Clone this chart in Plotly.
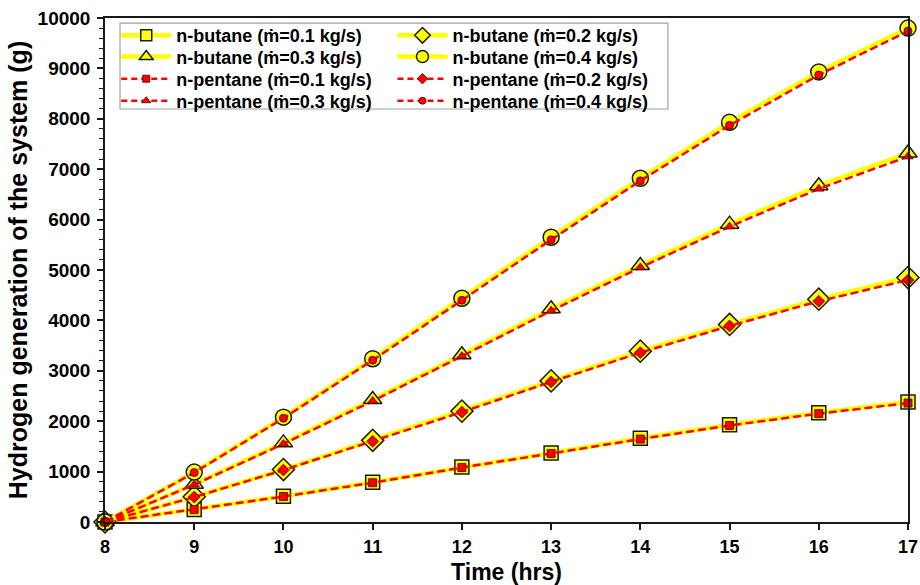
import plotly.graph_objects as go

hours = [8, 9, 10, 11, 12, 13, 14, 15, 16, 17]

butane_01 = [0, 250, 510, 790, 1090, 1370, 1660, 1930, 2170, 2380]
butane_02 = [0, 500, 1040, 1620, 2200, 2800, 3390, 3920, 4420, 4850]
butane_03 = [0, 750, 1570, 2430, 3320, 4230, 5090, 5910, 6670, 7320]
butane_04 = [0, 990, 2080, 3240, 4440, 5650, 6820, 7930, 8930, 9800]

pentane_01 = [0, 245, 505, 780, 1080, 1360, 1645, 1915, 2150, 2360]
pentane_02 = [0, 495, 1030, 1600, 2180, 2780, 3360, 3890, 4380, 4800]
pentane_03 = [0, 740, 1550, 2400, 3290, 4190, 5050, 5860, 6610, 7250]
pentane_04 = [0, 980, 2060, 3210, 4400, 5600, 6770, 7870, 8870, 9740]

names_butane = ["n-butane (ṁ=0.1 kg/s)", "n-butane (ṁ=0.2 kg/s)",
                "n-butane (ṁ=0.3 kg/s)", "n-butane (ṁ=0.4 kg/s)"]
names_pentane = ["n-pentane (ṁ=0.1 kg/s)", "n-pentane (ṁ=0.2 kg/s)",
                 "n-pentane (ṁ=0.3 kg/s)", "n-pentane (ṁ=0.4 kg/s)"]

symbols = ["square", "diamond", "triangle-up", "circle"]
b_sizes = [14, 17, 16, 16]
p_sizes = [8, 9, 9, 8]
b_leg_sizes = [11, 12, 12, 12]
p_leg_sizes = [7, 8, 8, 7]

# legend slot for each entry (left column / right column, 4 rows)
butane_legends = ["legend", "legend2", "legend3", "legend4"]
pentane_legends = ["legend5", "legend6", "legend7", "legend8"]

YELLOW = "#FFFF00"
RED = "#FF0000"
EDGE = "#1a1a1a"

fig = go.Figure()

for vals, name, sym, sz in zip([butane_01, butane_02, butane_03, butane_04],
                               names_butane, symbols, b_sizes):
    fig.add_trace(go.Scatter(
        x=hours, y=vals, name=name, mode="lines+markers", showlegend=False,
        line=dict(color=YELLOW, width=4.5),
        marker=dict(symbol=sym, size=sz, color=YELLOW, line=dict(color=EDGE, width=1.5)),
        cliponaxis=False,
    ))

for vals, name, sym, sz in zip([pentane_01, pentane_02, pentane_03, pentane_04],
                               names_pentane, symbols, p_sizes):
    fig.add_trace(go.Scatter(
        x=hours, y=vals, name=name, mode="lines+markers", showlegend=False,
        line=dict(color=RED, width=2.5, dash="8px,4px"),
        marker=dict(symbol=sym, size=sz, color=RED, line=dict(color="#3a0000", width=0.8)),
        cliponaxis=False,
    ))

# legend-only entries (smaller symbols, as in the original legend)
for name, sym, sz, lg in zip(names_butane, symbols, b_leg_sizes, butane_legends):
    fig.add_trace(go.Scatter(
        x=[None], y=[None], name=name, mode="lines+markers", legend=lg,
        line=dict(color=YELLOW, width=4.5),
        marker=dict(symbol=sym, size=sz, color=YELLOW, line=dict(color=EDGE, width=1.5)),
    ))
for name, sym, sz, lg in zip(names_pentane, symbols, p_leg_sizes, pentane_legends):
    fig.add_trace(go.Scatter(
        x=[None], y=[None], name=name, mode="lines+markers", legend=lg,
        line=dict(color=RED, width=2.5, dash="6px,4px"),
        marker=dict(symbol=sym, size=sz, color=RED, line=dict(color="#3a0000", width=0.8)),
    ))

FONT = "Liberation Sans, Arial, sans-serif"

legend_common = dict(
    bgcolor="rgba(0,0,0,0)", borderwidth=0, itemwidth=50,
    font=dict(family=FONT, size=18, color="black", weight="bold"),
    xanchor="left", yanchor="middle", itemclick=False,
)

col_x = [0.014, 0.358]
row_y = [0.9650, 0.9230, 0.8790, 0.8353]

legend_layout = {}
slots = [("legend", 0, 0), ("legend2", 1, 0), ("legend3", 0, 1), ("legend4", 1, 1),
         ("legend5", 0, 2), ("legend6", 1, 2), ("legend7", 0, 3), ("legend8", 1, 3)]
for key, c, r in slots:
    legend_layout[key] = dict(x=col_x[c], y=row_y[r], **legend_common)

fig.update_layout(
    width=920, height=585,
    margin=dict(l=105, r=12, t=18, b=63),
    paper_bgcolor="white", plot_bgcolor="white",
    font=dict(family=FONT, color="black"),
    xaxis=dict(
        range=[8, 17], tickmode="linear", tick0=8, dtick=1, automargin=False,
        showgrid=False, zeroline=False,
        showline=True, linecolor=EDGE, linewidth=1.5, mirror=True,
        ticks="outside", ticklen=6, tickwidth=1.5, tickcolor=EDGE,
        ticklabelstandoff=2,
        tickfont=dict(family=FONT, size=18, weight="bold", color="black"),
        title=dict(text="Time (hrs)", standoff=9,
                   font=dict(family=FONT, size=23, weight="bold", color="black")),
    ),
    yaxis=dict(
        range=[0, 10000], tickmode="linear", tick0=0, dtick=1000, automargin=False,
        tickformat="d",
        showgrid=False, zeroline=False,
        showline=True, linecolor=EDGE, linewidth=1.5, mirror=True,
        ticks="outside", ticklen=6, tickwidth=1.5, tickcolor=EDGE,
        minor=dict(dtick=200, ticks="outside", ticklen=4, tickwidth=1.2,
                   tickcolor=EDGE, showgrid=False),
        ticklabelstandoff=3,
        tickfont=dict(family=FONT, size=19, weight="bold", color="black"),
        title=dict(text="Hydrogen generation of the system (g)", standoff=3,
                   font=dict(family=FONT, size=25, weight="bold", color="black")),
    ),
    shapes=[dict(type="rect", xref="paper", yref="paper",
                 x0=0.0187, x1=0.701, y0=0.8194, y1=0.990,
                 line=dict(color="#a0a0a0", width=1.2), fillcolor="rgba(0,0,0,0)",
                 layer="above")],
    **legend_layout,
)

fig.write_html("out.html")
